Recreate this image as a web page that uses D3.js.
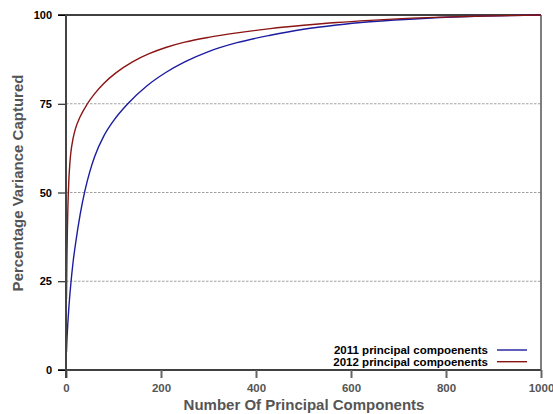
<!DOCTYPE html>
<html>
<head>
<meta charset="utf-8">
<script src="https://cdn.jsdelivr.net/npm/d3@7/dist/d3.min.js"></script>
<style>
  html, body { margin: 0; padding: 0; background: #fff; }
  svg { display: block; font-family: "Liberation Sans", Arial, Helvetica, sans-serif; }
</style>
</head>
<body>
<svg id="chart" width="553" height="414"></svg>
<script>
// ---- Data ----
const seriesNames = ["2011 principal compoenents", "2012 principal compoenents"];
const seriesColors = ["#1c1ca0", "#8b1414"];

const components2011 = [1, 2, 4, 6, 10, 15, 20, 30, 40, 50, 60, 80, 100, 130, 170, 210, 250, 300, 360, 430, 500, 570, 640, 760, 880, 1000];
const variance2011   = [5, 8.5, 13.5, 17.5, 24, 30.5, 35.5, 44, 50.6, 55.8, 60, 66, 70.2, 75, 80, 83.8, 86.8, 89.7, 92.2, 94.3, 96, 97.2, 98.1, 99.1, 99.7, 100];

const components2012 = [1, 2, 3, 4, 6, 8, 10, 15, 20, 30, 45, 60, 80, 105, 140, 175, 210, 250, 300, 360, 430, 500, 570, 640, 760, 880, 1000];
const variance2012   = [20, 32, 40, 46, 53.5, 58, 61, 65.3, 68, 71.4, 75, 77.8, 80.8, 83.7, 86.8, 89.1, 90.85, 92.35, 93.7, 94.95, 96.15, 97.1, 97.9, 98.5, 99.25, 99.7, 100];

const xTicks = [0, 200, 400, 600, 800, 1000];
const yTicks = [0, 25, 50, 75, 100];
const gridValues = [25, 50, 75];

(function () {
// ---- Layout ----
const svg = d3.select("#chart");
const pLeft = 66, pRight = 541, pTop = 15, pBottom = 370;

const x = d3.scaleLinear().domain([0, 1000]).range([pLeft, pRight]);
const y = d3.scaleLinear().domain([0, 100]).range([pBottom, pTop]);

// grid lines
svg.append("g").selectAll("line").data(gridValues).join("line")
  .attr("x1", pLeft).attr("x2", pRight)
  .attr("y1", d => y(d)).attr("y2", d => y(d))
  .attr("stroke", "#888").attr("stroke-width", 0.8)
  .attr("stroke-dasharray", "2.5,1.5");

// top and bottom borders (black)
svg.append("line").attr("x1", pLeft - 8).attr("x2", pRight).attr("y1", y(100)).attr("y2", y(100))
  .attr("stroke", "#000").attr("stroke-width", 1.5);
svg.append("line").attr("x1", pLeft - 8).attr("x2", pRight).attr("y1", y(0)).attr("y2", y(0))
  .attr("stroke", "#000").attr("stroke-width", 1.5);

// y axis
const yAxis = d3.axisLeft(y).tickValues(yTicks).tickSize(8).tickPadding(6).tickFormat(d3.format("d"));
const gy = svg.append("g").attr("transform", `translate(${pLeft},0)`).call(yAxis);
gy.select(".domain").remove();
gy.selectAll(".tick line").attr("stroke", "#000").attr("stroke-width", 1);
gy.selectAll(".tick text").attr("fill", "#000").style("font-size", "11px").style("font-weight", "bold")
  .style("font-family", "'Liberation Sans', Arial, sans-serif");

// x axis
const xAxis = d3.axisBottom(x).tickValues(xTicks).tickSize(8).tickPadding(6).tickFormat(d3.format("d"));
const gx = svg.append("g").attr("transform", `translate(0,${pBottom})`).call(xAxis);
gx.select(".domain").remove();
gx.selectAll(".tick line").attr("stroke", "#666").attr("stroke-width", 2);
gx.selectAll(".tick text").attr("fill", "#555").style("font-size", "11.5px").style("font-weight", "bold")
  .style("font-family", "'Liberation Sans', Arial, sans-serif");

// right border
svg.append("line").attr("x1", pRight).attr("x2", pRight).attr("y1", y(100)).attr("y2", y(0))
  .attr("stroke", "#555").attr("stroke-width", 1.5);

// series lines
const line = d3.line().x(d => x(d[0])).y(d => y(d[1])).curve(d3.curveMonotoneX);
const series = [
  d3.zip(components2011, variance2011),
  d3.zip(components2012, variance2012)
];
svg.append("g").selectAll("path").data(series).join("path")
  .attr("d", line)
  .attr("fill", "none")
  .attr("stroke", (d, i) => seriesColors[i])
  .attr("stroke-width", 1.4);

// left axis spine (thick dark grey)
svg.append("line").attr("x1", pLeft).attr("x2", pLeft).attr("y1", y(100)).attr("y2", pBottom + 8)
  .attr("stroke", "#444").attr("stroke-width", 2);

// legend
const legend = svg.append("g");
seriesNames.forEach((name, i) => {
  const ly = 350 + i * 11.7;
  legend.append("text").attr("x", 488).attr("y", ly + 4)
    .attr("text-anchor", "end").attr("fill", "#000")
    .style("font-size", "11.5px").style("font-weight", "bold")
    .text(name);
  legend.append("line").attr("x1", 497).attr("x2", 527).attr("y1", ly).attr("y2", ly)
    .attr("stroke", seriesColors[i]).attr("stroke-width", 1.4);
});

// axis titles
svg.append("text").attr("x", 304).attr("y", 410).attr("text-anchor", "middle")
  .attr("fill", "#555").style("font-size", "15px").style("font-weight", "bold")
  .text("Number Of Principal Components");
svg.append("text").attr("transform", "translate(23,183) rotate(-90)").attr("text-anchor", "middle")
  .attr("fill", "#555").style("font-size", "15px").style("font-weight", "bold")
  .text("Percentage Variance Captured");
})();
</script>
</body>
</html>
